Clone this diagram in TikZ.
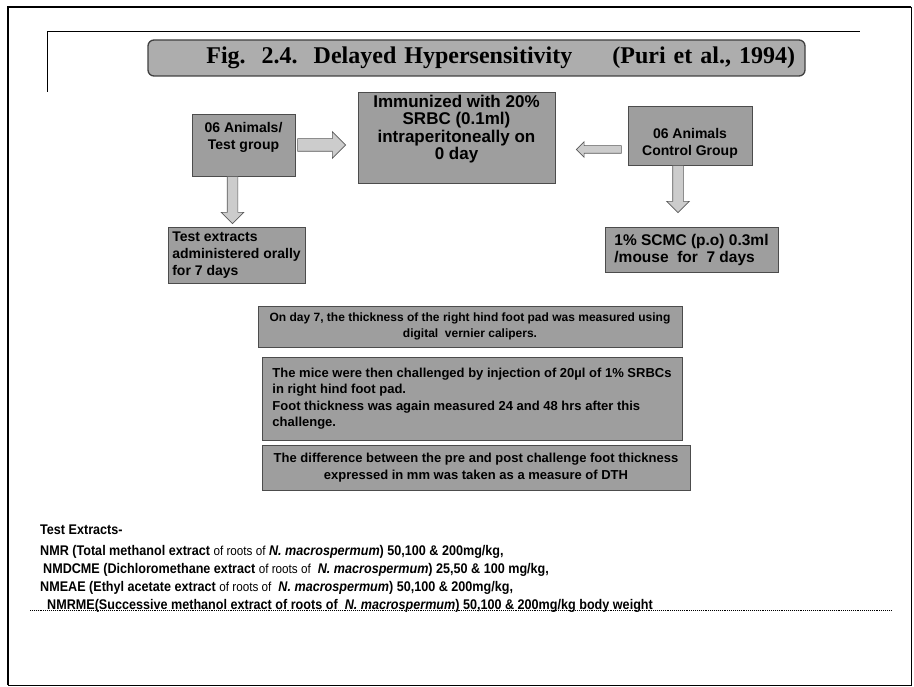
\documentclass[tikz,border=0pt]{standalone}
\usepackage{fontspec}
\setmainfont{Liberation Sans}
\newfontfamily\titlefont{Liberation Serif}
\newfontfamily\narrowfont[FakeStretch=0.9]{Liberation Sans}
\usetikzlibrary{shapes.arrows, positioning, calc}

\newcommand{\rootsof}{{\mdseries\fontsize{13}{16}\selectfont of roots of}}
\newcommand{\nmac}{\textit{N. macrospermum}}

\begin{document}
\begin{tikzpicture}[
        x=1pt, y=-1pt,
        font=\bfseries,
        greybox/.style={rectangle, draw=black!70, line width=0.7pt, fill=black!38,
                        inner sep=2pt, font=\fontsize{14}{17}\selectfont\bfseries},
        bigbox/.style={greybox, font=\fontsize{17}{17.5}\selectfont\bfseries},
        widebox/.style={greybox, font=\fontsize{13}{16.5}\selectfont\bfseries},
        titlebox/.style={rectangle, rounded corners=6pt, draw=black!75, line width=1.3pt,
                         fill=black!32, inner xsep=10pt,
                         font=\titlefont\fontsize{24}{26}\selectfont\bfseries},
        fatarrow/.style={single arrow, draw=black!65, fill=black!20, line width=0.6pt,
                         inner xsep=0pt, inner ysep=6pt, single arrow head extend=7pt},
        extline/.style={anchor=base west, inner sep=0pt,
                        font=\narrowfont\fontsize{14}{16}\selectfont\bfseries},
    ]
        \useasboundingbox (0,0) rectangle (914,687);

        % page frame
        \draw[line width=2.4pt] (8,685) -- (8,7) -- (911,7);
        \draw[line width=0.9pt] (911,7) -- (911,685) -- (8,685);
        \draw[line width=1pt] (47,92) -- (47,32) -- (860,32);

        \node[titlebox, minimum width=657pt, minimum height=36pt, text width=637pt,
              align=right] (title) at (476.5,58)
            {Fig.~~2.4.~~Delayed Hypersensitivity\hspace{40pt}(Puri et al., 1994)};

        \node[greybox, minimum width=103pt, minimum height=62pt, align=center,
              text depth=19pt] (testgrp) at (243.5,145) {06 Animals/\\Test group};
        \node[bigbox, minimum width=197pt, minimum height=91pt, align=center,
              text depth=20pt] (immun) at (456.5,137.5)
            {Immunized with 20\%\\SRBC (0.1ml)\\intraperitoneally on\\0 day};
        \node[greybox, minimum width=124pt, minimum height=59pt, align=center,
              text height=43pt] (ctrl) at (690,135.5) {06 Animals\\Control Group};
        \node[greybox, minimum width=137pt, minimum height=56pt, align=left]
            (extr) at (236.5,255) {Test extracts\\administered orally\\for 7 days};
        \node[greybox, font=\fontsize{15.5}{17}\selectfont\bfseries,
              minimum width=173pt, minimum height=45pt, align=left]
            (scmc) at (691.5,249.5) {1\% SCMC (p.o) 0.3ml\\/mouse~~for~~7 days};

        \node[greybox, font=\fontsize{12}{16}\selectfont\bfseries,
              minimum width=424pt, minimum height=41pt, align=center]
            (day7) at (470,326.5)
            {On day 7, the thickness of the right hind foot pad was measured using\\
             digital~~vernier calipers.};
        \node[widebox, minimum width=420pt, minimum height=83pt, align=left]
            (chall) at (472,398.5)
            {The mice were then challenged by injection of 20µl of 1\% SRBCs\\
             in right hind foot pad.\\
             Foot thickness was again measured 24 and 48 hrs after this\\
             challenge.};
        \node[widebox, minimum width=428pt, minimum height=45pt, align=center]
            (diff) at (476,467.5)
            {The difference between the pre and post challenge foot thickness\\
             expressed in mm was taken as a measure of DTH};

        % block arrows
        \node[fatarrow, minimum height=48pt, anchor=tail] (arrA)
            at ([xshift=2pt]testgrp.east) {};
        \node[fatarrow, inner ysep=3.5pt, single arrow head extend=4pt,
              minimum height=45pt, rotate=180, anchor=tail] (arrB)
            at ([shift={(-6,14)}]ctrl.west) {};
        \node[fatarrow, inner ysep=5pt, single arrow head extend=6pt,
              minimum height=47pt, rotate=-90, anchor=tail] (arrC)
            at ([xshift=-11pt]testgrp.south) {};
        \node[fatarrow, inner ysep=5pt, single arrow head extend=6pt,
              minimum height=47pt, rotate=-90, anchor=tail] (arrD)
            at ([xshift=-12pt]ctrl.south) {};

        % extract list
        \node[extline] (ext0) at (40,534) {Test Extracts-};
        \node[extline] (ext1) at (40,555)
            {NMR (Total methanol extract \rootsof\ \nmac) 50,100 \& 200mg/kg,};
        \node[extline] (ext2) at (43,573)
            {NMDCME (Dichloromethane extract \rootsof~~\nmac) 25,50 \& 100 mg/kg,};
        \node[extline] (ext3) at (40,591)
            {NMEAE (Ethyl acetate extract \rootsof~~\nmac) 50,100 \& 200mg/kg,};
        \node[extline] (ext4) at (47,609)
            {NMRME(Successive methanol extract of roots of~~\nmac) 50,100 \& 200mg/kg body weight};
        \draw[densely dotted, line width=0.9pt] (30,610) -- (892,610);
    \end{tikzpicture}
\end{document}
